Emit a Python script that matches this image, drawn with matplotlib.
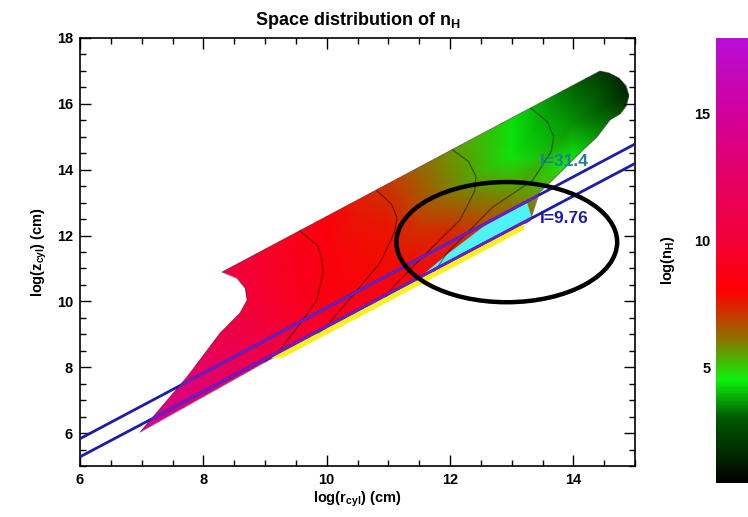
import numpy as np
import matplotlib.pyplot as plt
import matplotlib.colors as mcolors
from matplotlib.cm import ScalarMappable
from matplotlib.patches import Polygon, Ellipse

plt.rcParams['font.family'] = ['Liberation Sans', 'DejaVu Sans']
plt.rcParams['font.weight'] = 'bold'
plt.rcParams['axes.labelweight'] = 'bold'
plt.rcParams['axes.titleweight'] = 'bold'
plt.rcParams['mathtext.fontset'] = 'custom'
plt.rcParams['mathtext.rm'] = 'Liberation Sans:bold'
plt.rcParams['mathtext.it'] = 'Liberation Sans:bold'
plt.rcParams['mathtext.default'] = 'rm'

# log(n_H) sampled on a sheared grid: columns along log r, rows are offsets log z - log r
grid_r = [6.5, 8.0, 9.0, 10.0, 11.0, 12.0, 13.0, 14.0, 15.2]
grid_dz = [-1.2, 0.2, 1.4, 2.8]
log_nh = [
    [15.5, 13.5, 11.5, 10.0, 9.0, 8.8, 7.5, 5.5, 3.0],
    [14.5, 12.0, 10.0, 8.5, 7.8, 7.3, 5.8, 4.5, 1.5],
    [14.0, 11.5, 9.5, 8.5, 7.6, 6.0, 4.4, 3.6, 0.5],
    [13.5, 11.3, 9.5, 8.3, 7.0, 5.6, 4.3, 3.0, 0.5],
]

# outline of the region where the solution exists
shape_r = [6.97, 9.0, 11.0, 13.3, 13.45, 13.78, 14.10, 14.38, 14.60, 14.76, 14.86,
           14.90, 14.86, 14.74, 14.58, 14.43, 8.30, 8.54, 8.68, 8.71, 8.59, 8.27, 7.73]
shape_z = [6.02, 8.15, 10.15, 12.45, 13.30, 13.90, 14.50, 14.99, 15.52, 15.70, 15.92,
           16.25, 16.55, 16.78, 16.94, 17.00, 10.89, 10.70, 10.40, 10.04, 9.64, 9.03, 7.70]

# thin bands along the base of the flow
cyan_r = [11.5, 12.0, 12.55, 13.25, 13.33]
cyan_z = [10.72, 11.5, 12.28, 13.0, 12.52]
yellow_r = [9.1, 13.2, 13.2, 9.3]
yellow_z = [8.28, 12.38, 12.18, 8.30]

# dark contour arcs
arcs = [
    ([9.56, 9.85, 9.92, 9.94, 9.84, 9.61, 9.24, 9.00],
     [12.15, 11.70, 11.30, 10.86, 10.04, 9.43, 8.52, 8.15]),
    ([10.80, 11.05, 11.14, 11.10, 10.86, 10.26, 9.97, 9.85],
     [13.39, 12.95, 12.55, 12.10, 11.16, 9.82, 9.19, 9.0]),
    ([12.03, 12.30, 12.42, 12.40, 12.16, 11.62, 11.07, 10.95],
     [14.62, 14.25, 13.80, 13.35, 12.47, 11.47, 10.43, 10.1]),
    ([13.30, 13.58, 13.68, 13.64, 13.34, 12.69, 11.95, 11.75],
     [15.89, 15.45, 15.00, 14.55, 13.68, 12.86, 11.47, 10.9]),
]

# lines of sight
los_labels = ['I=31.4', 'I=9.76']
los_r = [[6.0, 15.0], [6.0, 15.0]]
los_z = [[5.83, 14.78], [5.28, 14.19]]
los_label_pos = [(13.45, 14.25), (13.45, 12.53)]
los_label_colors = ['#1f7f95', '#1c1ca8']

# colour table of log(n_H)
cmap_vals = [0.45, 1.5, 3.0, 4.5, 6.1, 8.0, 10.0, 12.5, 15.0, 18.0]
cmap_cols = ['#000000', '#002600', '#005900', '#0df20d', '#8c7300',
             '#ff0000', '#f20038', '#e60066', '#d1009a', '#b80dd9']
vmin, vmax = cmap_vals[0], cmap_vals[-1]
cmap = mcolors.LinearSegmentedColormap.from_list(
    'nh', [((v - vmin) / (vmax - vmin), c) for v, c in zip(cmap_vals, cmap_cols)])
norm = mcolors.Normalize(vmin=vmin, vmax=vmax)

fig = plt.figure(figsize=(7.48, 5.17), dpi=100)
ax = fig.add_axes([0.107, 0.0986, 0.742, 0.8279])

R, DZ = np.meshgrid(grid_r, grid_dz)
outline = Polygon(np.column_stack([shape_r, shape_z]), closed=True,
                  facecolor='none', edgecolor='#3a0a20', lw=0.6, alpha=0.5, zorder=2)
ax.add_patch(outline)
mesh = ax.pcolormesh(R, R + DZ, np.array(log_nh), cmap=cmap, norm=norm,
                     shading='gouraud', zorder=1)
mesh.set_clip_path(outline)

ax.fill(cyan_r, cyan_z, color='#4ff2f5', lw=0, zorder=2)
ax.fill(yellow_r, yellow_z, color='#f8f020', lw=0, zorder=2)

for ar, az in arcs:
    ln, = ax.plot(ar, az, color='k', lw=0.9, alpha=0.45, zorder=3)
    ln.set_clip_path(outline)

for r, z in zip(los_r, los_z):
    ax.plot(r, z, color='#1c1ca8', lw=2.0, zorder=4, solid_capstyle='butt')
    inner, = ax.plot(r, z, color='#6a1ec4', lw=2.0, zorder=4.5, solid_capstyle='butt')
    inner.set_clip_path(outline)

for lab, (x, y), c in zip(los_labels, los_label_pos, los_label_colors):
    ax.text(x, y, lab, color=c, fontsize=12.5, ha='left', va='center', zorder=5)

ax.add_patch(Ellipse((12.92, 11.80), 3.58, 3.65, fill=False, edgecolor='k', lw=3.2, zorder=6))

ax.set_xlim(6, 15)
ax.set_ylim(5, 18)
ax.set_xticks([6, 8, 10, 12, 14])
ax.set_xticks(np.arange(6, 15.01, 0.5), minor=True)
ax.set_yticks([6, 8, 10, 12, 14, 16, 18])
ax.set_yticks(np.arange(5, 18.01, 0.5), minor=True)
ax.tick_params(which='both', direction='in', top=True, right=True, width=1.0, labelsize=10.5)
ax.tick_params(which='major', length=8, pad=5)
ax.tick_params(which='minor', length=4)
for s in ax.spines.values():
    s.set_linewidth(1.2)

ax.set_xlabel('log(r$_{cyl}$) (cm)', fontsize=10.5, labelpad=2)
ax.set_ylabel('log(z$_{cyl}$) (cm)', fontsize=10.5, labelpad=6)
ax.set_title('Space distribution of n$_H$', fontsize=13, pad=9)

cax = fig.add_axes([0.957, 0.0658, 0.045, 0.861])
cb = fig.colorbar(ScalarMappable(norm=norm, cmap=cmap), cax=cax)
cb.outline.set_visible(False)
cb.set_ticks([5, 10, 15])
cax.yaxis.set_ticks_position('left')
cax.yaxis.set_label_position('left')
cax.tick_params(length=0, pad=4, labelsize=10.5)
cb.set_label('log(n$_H$)', fontsize=10.5)
cax.yaxis.set_label_coords(-1.15, 0.5)

fig.savefig('out.png', dpi=100)
